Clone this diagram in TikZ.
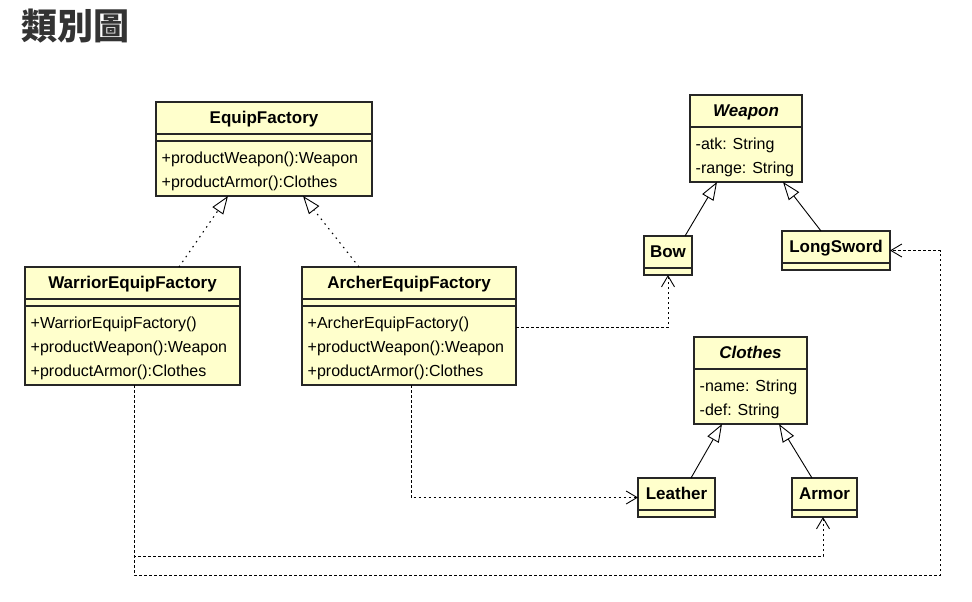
\documentclass[tikz,border=0pt]{standalone}
\usepackage{fontspec}
\setmainfont{Liberation Sans}
\newfontfamily\cjk{Noto Sans CJK TC}
\usepackage{xcolor}
\usetikzlibrary{arrows.meta,calc}
\definecolor{classfill}{HTML}{FFFFCC}
\definecolor{titlegray}{HTML}{333333}
\newcommand{\umlclass}[7]{%
  \node[box,minimum width=#3,minimum height=#4] (#1) at (#2) {};
  \draw[sepline] ($(#1.north west)+(0,32)$) -- ($(#1.north east)+(0,32)$)
    ($(#1.north west)+(0,#6)$) -- ($(#1.north east)+(0,#6)$);
  \node[cname] (#1 name) at ($(#1.north)+(0,21)$) {#5};
  \node[members] (#1 body) at ($(#1.north west)+(5.5,#6+5.5)$) {#7};
}
\newcommand{\leafclass}[4]{%
  \node[box,minimum width=#3,minimum height=39pt] (#1) at (#2) {};
  \draw[sepline] ($(#1.north west)+(0,32)$) -- ($(#1.north east)+(0,32)$);
  \node[cname] (#1 name) at ($(#1.north)+(0,21)$) {#4};
}

\begin{document}
\begin{tikzpicture}[x=1pt,y=-1pt,
  box/.style={draw=black!85,line width=1.2pt,fill=classfill,anchor=north west,inner sep=0pt,outer sep=0pt},
  sepline/.style={draw=black!85,line width=1.2pt},
  cname/.style={anchor=base,inner sep=0pt,font=\bfseries\fontsize{17}{20}\selectfont},
  members/.style={anchor=north west,inner sep=0pt,align=left,font=\fontsize{16}{24}\selectfont},
  inherit/.style={line width=0.9pt,-{Triangle[open,length=18pt,width=13pt,line width=0.9pt]}},
  realize/.style={inherit,line width=1.1pt,dash pattern=on 1.5pt off 4.5pt},
  depend/.style={line width=0.9pt,dash pattern=on 2.5pt off 2.5pt,
    -{Straight Barb[length=11pt,width=13pt,line width=0.9pt]}}]
\fill[white] (0,0) rectangle (972,602);
\useasboundingbox (0,0) rectangle (972,602);
\node[anchor=north west,inner sep=0pt,text=titlegray,font=\cjk\bfseries\fontsize{36}{40}\selectfont] (title) at (21,9) {類別圖};

\umlclass{equip}{156,102}{216pt}{94pt}{EquipFactory}{39}
  {\strut+productWeapon():Weapon\\\strut+productArmor():Clothes}
\umlclass{warrior}{25,267}{215pt}{118pt}{WarriorEquipFactory}{39}
  {\strut+WarriorEquipFactory()\\\strut+productWeapon():Weapon\\\strut+productArmor():Clothes}
\umlclass{archer}{302,267}{214pt}{118pt}{ArcherEquipFactory}{39}
  {\strut+ArcherEquipFactory()\\\strut+productWeapon():Weapon\\\strut+productArmor():Clothes}
\umlclass{weapon}{690,95}{112pt}{87pt}{\itshape Weapon}{32}
  {\strut-atk: String\\\strut-range: String}
\umlclass{clothes}{694,337}{113pt}{87pt}{\itshape Clothes}{32}
  {\strut-name: String\\\strut-def: String}
\leafclass{bow}{644,236}{48pt}{Bow}
\leafclass{sword}{782,231}{108pt}{LongSword}
\leafclass{leather}{638,478}{77pt}{Leather}
\leafclass{armor}{792,478}{65pt}{Armor}

\draw[realize] ($(warrior.north west)+(154,0)$) -- ($(equip.south west)+(72,0)$);
\draw[realize] ($(archer.north west)+(57,0)$) -- ($(equip.south west)+(147,0)$);
\draw[inherit] ($(bow.north west)+(41,0)$) -- ($(weapon.south west)+(27,0)$);
\draw[inherit] ($(sword.north west)+(39,0)$) -- ($(weapon.south west)+(93,0)$);
\draw[inherit] ($(leather.north west)+(53,0)$) -- ($(clothes.south west)+(28,0)$);
\draw[inherit] ($(armor.north west)+(20,0)$) -- ($(clothes.south west)+(85,0)$);

\draw[depend] ($(archer.north east)+(0,60)$) -| ($(bow.south west)+(24,0)$);
\draw[depend] ($(archer.south west)+(109,0)$) |- (leather.west);
\draw[depend] ($(warrior.south west)+(109,0)$) |- ++(689,171) -- ($(armor.south west)+(31,0)$);
\draw[depend] ($(warrior.south west)+(109,0)$) |- ++(806,190) |- (sword.east);
\end{tikzpicture}
\end{document}
